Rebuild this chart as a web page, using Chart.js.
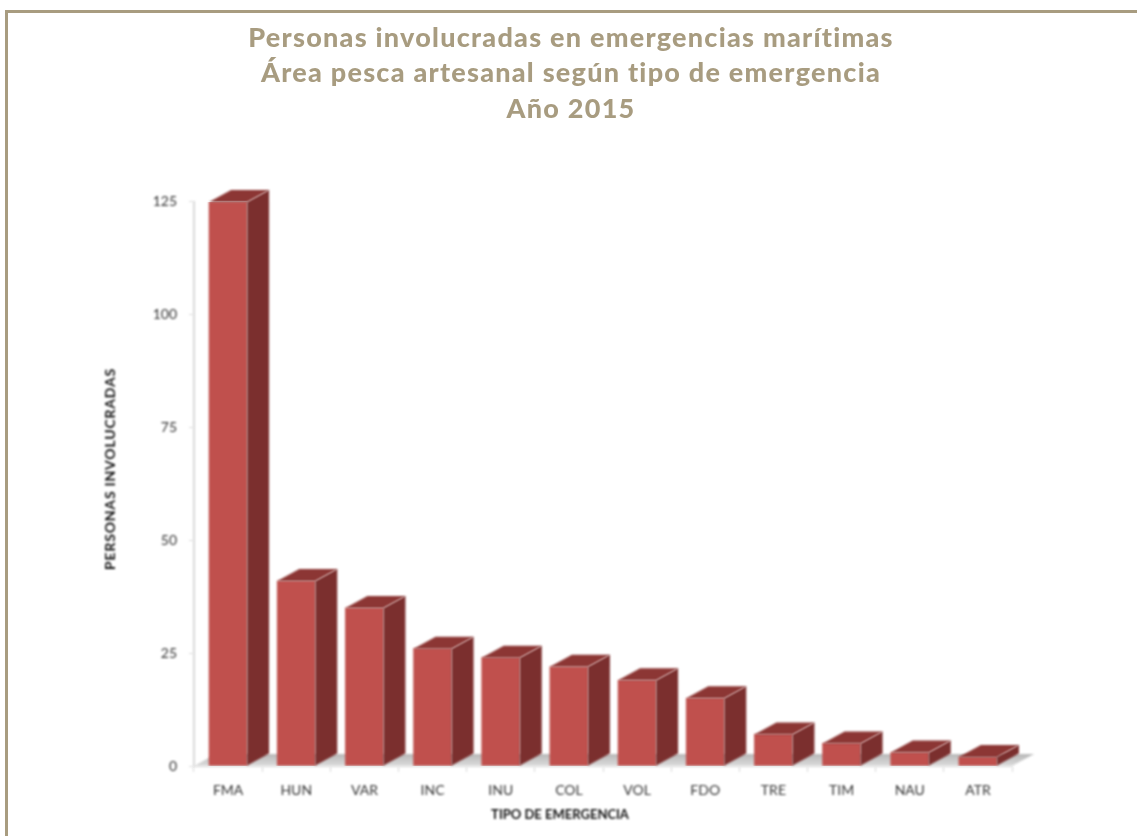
<!DOCTYPE html>
<html>
<head>
<meta charset="utf-8">
<style>
  html, body { margin: 0; padding: 0; background: #fff; }
  #wrap { position: relative; width: 1137px; height: 836px; overflow: hidden; }
  #frame { position: absolute; left: 5px; top: 10px; width: 1200px; height: 900px; border: 3px solid #a89c80; }
  canvas { position: absolute; left: 0; top: 0; }
</style>
<script src="https://cdnjs.cloudflare.com/ajax/libs/Chart.js/4.4.0/chart.umd.min.js"></script>
</head>
<body>
<div id="wrap">
  <div id="frame"></div>
  <canvas id="chart" width="1137" height="836"></canvas>
</div>
<script>
const titleLines = ['Personas involucradas en emergencias marítimas', 'Área pesca artesanal según tipo de emergencia', 'Año 2015']
const categories = ['FMA', 'HUN', 'VAR', 'INC', 'INU', 'COL', 'VOL', 'FDO', 'TRE', 'TIM', 'NAU', 'ATR']
const personas = [125, 41, 35, 26, 24, 22, 19, 15, 7, 5, 3, 2]
const yTicks = [0, 25, 50, 75, 100, 125]
const xTitle = 'TIPO DE EMERGENCIA'
const yTitle = 'PERSONAS INVOLUCRADAS'

const DEPTH_X = 22
const DEPTH_Y = 12
const SOFTEN = 'blur(0.9px)' // the original plot is a scaled up, slightly soft image

// Chart.js has no 3D bars, so the floor, sides and tops are added around the real bars
const bars3d = {
    id: 'bars3d',
    afterLayout(chart) {
        // title is centred on the frame, not on the plot
        const block = chart.titleBlock
        block.left = 5
        block.right = 1137
        const drawTitle = block.draw.bind(block)
        block.draw = () => {
            const { ctx } = chart
            ctx.save()
            ctx.filter = 'none'
            ctx.letterSpacing = '1.25px'
            drawTitle()
            ctx.restore()
        }
    },
    beforeDraw(chart) {
        chart.ctx.save()
        chart.ctx.filter = SOFTEN
    },
    beforeDatasetsDraw(chart) {
        const { ctx, chartArea: a } = chart
        const floor = ctx.createLinearGradient(0, a.bottom - DEPTH_Y, 0, a.bottom)
        floor.addColorStop(0, '#b8b8b8')
        floor.addColorStop(1, '#dcdcdc')
        ctx.save()
        ctx.fillStyle = floor
        ctx.beginPath()
        ctx.moveTo(a.left, a.bottom)
        ctx.lineTo(a.right, a.bottom)
        ctx.lineTo(a.right + DEPTH_X, a.bottom - DEPTH_Y)
        ctx.lineTo(a.left + DEPTH_X, a.bottom - DEPTH_Y)
        ctx.closePath()
        ctx.fill()
        ctx.restore()
    },
    afterDatasetsDraw(chart) {
        const { ctx } = chart
        ctx.save()
        chart.getDatasetMeta(0).data.forEach(bar => {
            const l = bar.x - bar.width / 2
            const r = bar.x + bar.width / 2
            const t = bar.y
            const b = bar.base
            ctx.fillStyle = '#7b2f2e'
            ctx.beginPath()
            ctx.moveTo(r, t)
            ctx.lineTo(r + DEPTH_X, t - DEPTH_Y)
            ctx.lineTo(r + DEPTH_X, b - DEPTH_Y)
            ctx.lineTo(r, b)
            ctx.closePath()
            ctx.fill()
            ctx.fillStyle = '#8c3634'
            ctx.beginPath()
            ctx.moveTo(l, t)
            ctx.lineTo(l + DEPTH_X, t - DEPTH_Y)
            ctx.lineTo(r + DEPTH_X, t - DEPTH_Y)
            ctx.lineTo(r, t)
            ctx.closePath()
            ctx.fill()
        })
        ctx.restore()
    },
    // axis titles sit off the middle of their axes in the original
    afterDraw(chart) {
        const { ctx } = chart
        ctx.save()
        ctx.font = 'bold 13px Lato'
        ctx.fillStyle = '#111111'
        ctx.textAlign = 'center'
        ctx.textBaseline = 'middle'
        ctx.fillText(xTitle, 560, 815)
        ctx.font = 'bold 14px Lato'
        ctx.letterSpacing = '0.8px'
        ctx.translate(110, 469)
        ctx.rotate(-Math.PI / 2)
        ctx.fillText(yTitle, 0, 0)
        ctx.restore()
        ctx.restore()
    }
}

new Chart(document.getElementById('chart'), {
    type: 'bar',
    data: {
        labels: categories,
        datasets: [{
            label: 'Personas involucradas',
            data: personas,
            backgroundColor: '#c0504d',
            barThickness: 38
        }]
    },
    plugins: [bars3d],
    options: {
        responsive: false,
        animation: false,
        layout: { padding: { left: 5, right: 125, top: 0, bottom: 0 } },
        plugins: {
            legend: { display: false },
            tooltip: { enabled: false },
            title: {
                display: true,
                text: titleLines,
                color: '#a89c80',
                font: { family: 'Lato', size: 27, weight: 900, lineHeight: 1.32 },
                padding: { top: 20, bottom: 75 }
            }
        },
        scales: {
            x: {
                afterFit: s => { s.height = 70 },
                border: { color: '#d9d9d9' },
                grid: { drawOnChartArea: false, tickLength: 6, tickColor: '#d9d9d9' },
                ticks: { color: '#333333', font: { family: 'Lato', size: 14 }, padding: 10, maxRotation: 0 }
            },
            y: {
                min: 0,
                max: 125,
                afterFit: s => { s.width = 189 },
                afterBuildTicks: s => { s.ticks = yTicks.map(value => ({ value })) },
                border: { color: '#d9d9d9', width: 2 },
                grid: { drawOnChartArea: false, tickLength: 5, tickColor: '#d9d9d9' },
                ticks: { color: '#333333', font: { family: 'Lato', size: 14 }, padding: 12 }
            }
        }
    }
})
</script>
</body>
</html>
